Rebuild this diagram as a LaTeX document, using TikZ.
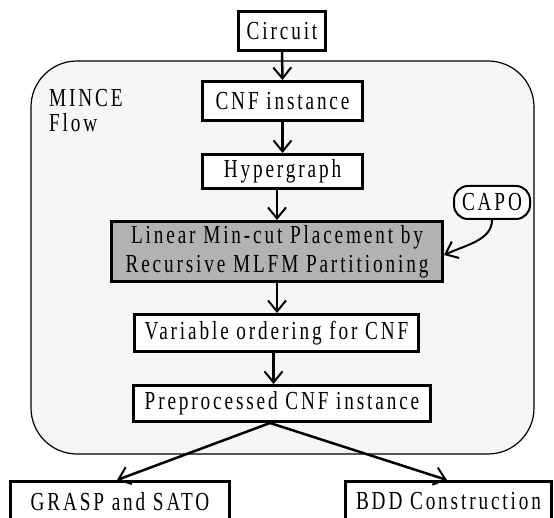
\documentclass[tikz,border=0pt]{standalone}
\usepackage{fontspec}
\setmainfont{Liberation Serif}[FakeStretch=0.74, LetterSpace=11]
\usetikzlibrary{arrows.meta}
\definecolor{panel}{RGB}{246,246,246}
\definecolor{hl}{RGB}{178,178,178}
\begin{document}
\begin{tikzpicture}[x=1pt,y=-1pt,
  box/.style={draw, line width=3pt, fill=white, inner sep=0pt,
              font=\fontsize{26}{30}\selectfont, align=center},
  lbl/.style={inner sep=0pt, anchor=base west, font=\fontsize{26}{30}\selectfont},
  conn/.style={line width=2.5pt, -{Straight Barb[length=11pt,width=18pt,line width=2pt]}}]
\useasboundingbox (0,0) rectangle (554,518);
\draw[line width=1.2pt, fill=panel, rounded corners=46pt] (31,61) rectangle (534,454);
\node[lbl] (mince) at (49,107) {MINCE};
\node[lbl] (flow) at (49,132) {Flow};
\node[box, minimum width=87, minimum height=39] (circ) at (282,31) {Circuit};
\node[box, minimum width=160, minimum height=39] (cnf) at (282.5,101) {CNF instance};
\node[box, minimum width=160, minimum height=34] (hyp) at (282.5,171.5) {Hypergraph};
\node[box, line width=2pt, rounded corners=14pt, minimum width=76, minimum height=33] (capo) at (492,202.5) {CAPO};
\node[box, fill=hl, minimum width=331, minimum height=60, font=\fontsize{26}{29}\selectfont] (gray) at (277,251.5) {Linear Min-cut Placement by\\Recursive MLFM Partitioning};
\node[box, minimum width=284, minimum height=37] (var) at (276.5,333) {Variable ordering for CNF};
\node[box, minimum width=297, minimum height=36] (prep) at (282,403.5) {Preprocessed CNF instance};
\node[box, minimum width=219, minimum height=40] (grasp) at (120,501.5) {GRASP and SATO};
\node[box, minimum width=206, minimum height=40] (bdd) at (448.5,501.5) {BDD Construction};
\draw[conn] (circ.south) -- (cnf.north);
\draw[conn] (cnf.south) -- (hyp.north);
\draw[conn] (gray.north |- hyp.south) -- (gray.north);
\draw[conn] (gray.south) -- (gray.south |- var.north);
\draw[conn] ([xshift=-3pt]var.south) -- ([xshift=-3pt]var.south |- prep.north);
\draw[conn] ([xshift=-12pt]prep.south) -- ([xshift=-3pt]grasp.north);
\draw[conn] ([xshift=-12pt]prep.south) -- ([xshift=-1.5pt]bdd.north);
\draw[conn, line width=2pt] (capo.south) .. controls +(0,20) and +(22,-10) .. ([yshift=-3.5pt]gray.east);
\end{tikzpicture}
\end{document}
